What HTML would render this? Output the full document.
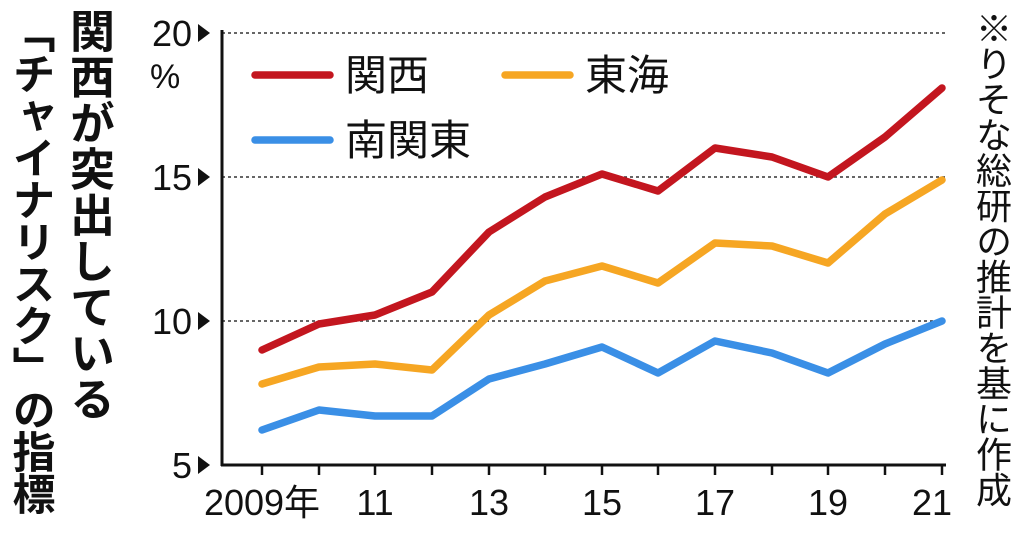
<!DOCTYPE html>
<html><head><meta charset="utf-8"><style>
html,body{margin:0;padding:0;background:#fff;}
body{width:1024px;height:535px;overflow:hidden;position:relative;font-family:"Liberation Sans","Noto Sans CJK JP",sans-serif;}
.vt{position:absolute;writing-mode:vertical-rl;font-family:"Noto Sans CJK JP",sans-serif;line-height:1;}
</style></head><body>
<div class="vt" style="left:70px;top:8px;font-size:45px;font-weight:bold;color:#111;letter-spacing:1px;">関西が突出している</div>
<div class="vt" style="left:12px;top:10px;font-size:43px;font-weight:bold;color:#111;letter-spacing:-1px;">「チャイナリスク」の指標</div>
<div class="vt" style="left:976px;top:10px;font-size:36px;color:#111;letter-spacing:-0.5px;">※りそな総研の推計を基に作成</div>
<svg width="1024" height="535" style="position:absolute;left:0;top:0">
<g stroke="#333" stroke-width="1.5" stroke-dasharray="3,3">
<line x1="222" y1="33" x2="945" y2="33"/><line x1="222" y1="177" x2="945" y2="177"/><line x1="222" y1="321" x2="945" y2="321"/>
</g>
<line x1="222" y1="30" x2="222" y2="466" stroke="#111" stroke-width="3"/>
<line x1="221" y1="465" x2="946" y2="465" stroke="#111" stroke-width="3"/>
<g stroke="#111" stroke-width="2.5">
<line x1="262" y1="465" x2="262" y2="475"/><line x1="319" y1="465" x2="319" y2="475"/><line x1="375" y1="465" x2="375" y2="475"/><line x1="432" y1="465" x2="432" y2="475"/><line x1="489" y1="465" x2="489" y2="475"/><line x1="545" y1="465" x2="545" y2="475"/><line x1="602" y1="465" x2="602" y2="475"/><line x1="658" y1="465" x2="658" y2="475"/><line x1="715" y1="465" x2="715" y2="475"/><line x1="772" y1="465" x2="772" y2="475"/><line x1="828" y1="465" x2="828" y2="475"/><line x1="885" y1="465" x2="885" y2="475"/><line x1="942" y1="465" x2="942" y2="475"/>
</g>
<g fill="#111">
<polygon points="198,24 210,33 198,42"/><polygon points="198,168 210,177 198,186"/><polygon points="198,312 210,321 198,330"/><polygon points="198,456 210,465 198,474"/>
</g>
<g font-family="Liberation Sans,sans-serif" font-size="36" fill="#111" text-anchor="end">
<text x="192" y="46">20</text><text x="192" y="190">15</text><text x="192" y="334">10</text><text x="192" y="478">5</text>
</g>
<text x="150" y="88" font-size="34" fill="#111" font-family="Liberation Sans,sans-serif">%</text>
<g font-family="Liberation Sans,Noto Sans CJK JP,sans-serif" font-size="36" fill="#111" text-anchor="middle">
<text x="262" y="515">2009年</text><text x="375" y="515">11</text><text x="489" y="515">13</text><text x="602" y="515">15</text><text x="715" y="515">17</text><text x="828" y="515">19</text><text x="932" y="515">21</text>
</g>
<g fill="none" stroke-width="7.5" stroke-linejoin="round" stroke-linecap="round">
<polyline stroke="#c3161f" points="262,350 319,324 375,315 432,292 489,232 545,197 602,174 658,191 715,148 772,157 828,177 885,137 942,88"/>
<polyline stroke="#f6a623" points="262,384 319,367 375,364 432,370 489,315 545,281 602,266 658,283 715,243 772,246 828,263 885,214 942,180"/>
<polyline stroke="#3a8fe6" points="262,430 319,410 375,416 432,416 489,379 545,364 602,347 658,373 715,341 772,353 828,373 885,344 942,321"/>
<line x1="255" y1="75" x2="330" y2="75" stroke="#c3161f"/>
<line x1="505" y1="75" x2="570" y2="75" stroke="#f6a623"/>
<line x1="255" y1="140" x2="330" y2="140" stroke="#3a8fe6"/>
</g>
<g font-family="Noto Sans CJK JP,sans-serif" font-size="42" fill="#111">
<text x="345" y="90">関西</text><text x="585" y="90">東海</text><text x="345" y="155">南関東</text>
</g>
</svg>
</body></html>
